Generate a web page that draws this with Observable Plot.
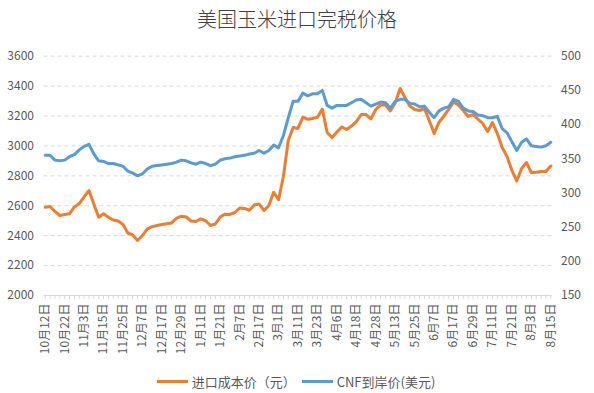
<!DOCTYPE html>
<html><head><meta charset="utf-8">
<script src="https://cdn.jsdelivr.net/npm/d3@7"></script>
<script src="https://cdn.jsdelivr.net/npm/@observablehq/plot@0.6"></script>
<style>
body{margin:0;background:#fff;font-family:"Noto Sans CJK SC","Noto Sans",sans-serif;}
#wrap{position:relative;width:594px;height:393px;overflow:hidden;background:#fff;}
#title{position:absolute;top:6px;left:0;width:594px;text-align:center;font-size:20px;line-height:26px;color:#404040;font-weight:300;}
#chart{position:absolute;top:40px;left:0;}
#legend{position:absolute;top:370px;left:0;width:586px;height:22px;display:flex;justify-content:center;align-items:center;font-size:13px;color:#595959;}
#legend .sw{display:inline-block;width:31px;height:3px;margin:0 4px 0 6px;}
</style>
</head><body>
<div id="wrap">
  <div id="title"></div>
  <div id="chart"></div>
  <div id="legend"></div>
</div>
<script>
const title = "美国玉米进口完税价格";
const seriesNames = ["进口成本价（元）", "CNF到岸价(美元)"];
const seriesColors = ["#ED7D31", "#5B9BD5"];
const dateLabels = ["10月12日","10月22日","11月3日","11月15日","11月25日","12月7日","12月17日","12月29日","1月11日","1月21日","2月7日","2月17日","3月1日","3月11日","3月23日","4月6日","4月18日","4月28日","5月13日","5月25日","6月7日","6月17日","6月29日","7月11日","7月21日","8月3日","8月15日"];
const labelEvery = 8;   // categories between date labels
const step = 2;         // categories between sampled values
const leftTicks = [2000,2200,2400,2600,2800,3000,3200,3400,3600];
const rightTicks = [150,200,250,300,350,400,450,500];

// 进口成本价（元） — left axis
const cost = [2590,2595,2562,2535,2542,2546,2592,2615,2659,2702,
2612,2523,2547,2522,2505,2498,2475,2418,2405,2368,
2401,2445,2460,2468,2475,2480,2485,2515,2530,2525,
2498,2495,2512,2500,2468,2478,2525,2544,2542,2555,
2585,2582,2570,2605,2612,2568,2602,2690,2640,2796,
3036,3123,3117,3193,3178,3183,3192,3247,3090,3056,
3093,3127,3110,3133,3163,3210,3210,3181,3244,3274,
3273,3234,3287,3384,3324,3267,3244,3237,3250,3170,
3083,3157,3200,3244,3294,3274,3237,3197,3210,3180,
3150,3097,3157,3083,2990,2929,2836,2766,2849,2889,
2822,2824,2829,2829,2866];

// CNF到岸价(美元) — right axis
const cnf = [355,355,348,347,348,353,356,363,368,371,
357,347,346,343,343,341,339,332,329,325,
328,335,339,340,341,342,343,345,348,347,
344,342,345,343,340,342,348,350,351,353,
354,355,357,358,362,358,362,370,366,384,
410,434,434,446,442,445,445,450,428,424,
428,428,428,432,436,437,432,427,430,433,
432,424,434,437,437,431,430,426,427,418,
410,420,424,426,437,434,424,420,419,414,
413,410,410,412,394,388,375,362,374,379,
369,368,367,369,374];

const L0 = leftTicks[0], L1 = leftTicks[leftTicks.length-1];
const R0 = rightTicks[0], R1 = rightTicks[rightTicks.length-1];
const toLeft = r => L0 + (r - R0) * (L1 - L0) / (R1 - R0);
const fromLeft = v => R0 + (v - L0) * (R1 - R0) / (L1 - L0);

const nCat = (dateLabels.length - 1) * labelEvery + 1;
const rows = cost.map((c, k) => ({i: k * step, cost: c, cnf: toLeft(cnf[k])}));
const minorTicks = d3.range(0, nCat, step);
const labelTicks = d3.range(0, nCat, labelEvery);

document.getElementById("title").textContent = title;

const font = '"Noto Sans CJK SC","Noto Sans",sans-serif';
const chart = Plot.plot({
  width: 594, height: 320,
  marginTop: 15.7, marginBottom: 65, marginLeft: 43.5, marginRight: 42.5,
  x: {domain: [-0.5, nCat - 0.5], label: null},
  y: {domain: [L0, L1], label: null},
  style: {fontFamily: font, fontSize: "12px", color: "#595959", background: "transparent", overflow: "visible"},
  marks: [
    Plot.gridY(leftTicks.slice(1), {stroke: "#d9d9d9", strokeOpacity: 1, strokeDasharray: "4,3"}),
    Plot.axisY(leftTicks, {anchor: "left", label: null, tickSize: 0, tickPadding: 10, fontSize: 12, tickFormat: d => String(d)}),
    Plot.axisY(rightTicks.map(toLeft), {anchor: "right", label: null, tickSize: 0, tickPadding: 9, fontSize: 12, tickFormat: d => String(Math.round(fromLeft(d)))}),
    Plot.ruleY([L0], {stroke: "#d9d9d9", strokeWidth: 1}),
    Plot.axisX(minorTicks, {label: null, tickSize: 4, stroke: "#d9d9d9", strokeOpacity: 1, tickFormat: () => ""}),
    Plot.axisX(labelTicks, {label: null, tickSize: 0, tickRotate: -90, tickPadding: 8, fontSize: 12, textAnchor: "end", tickFormat: i => dateLabels[i / labelEvery]}),
    Plot.line(rows, {x: "i", y: "cost", stroke: seriesColors[0], strokeWidth: 3, strokeLinejoin: "round"}),
    Plot.line(rows, {x: "i", y: "cnf", stroke: seriesColors[1], strokeWidth: 3, strokeLinejoin: "round"})
  ]
});
document.getElementById("chart").appendChild(chart);

const lg = document.getElementById("legend");
seriesNames.forEach((name, j) => {
  const sw = document.createElement("span");
  sw.className = "sw";
  sw.style.background = seriesColors[j];
  const tx = document.createElement("span");
  tx.textContent = name;
  lg.appendChild(sw);
  lg.appendChild(tx);
});
</script>
</body></html>
